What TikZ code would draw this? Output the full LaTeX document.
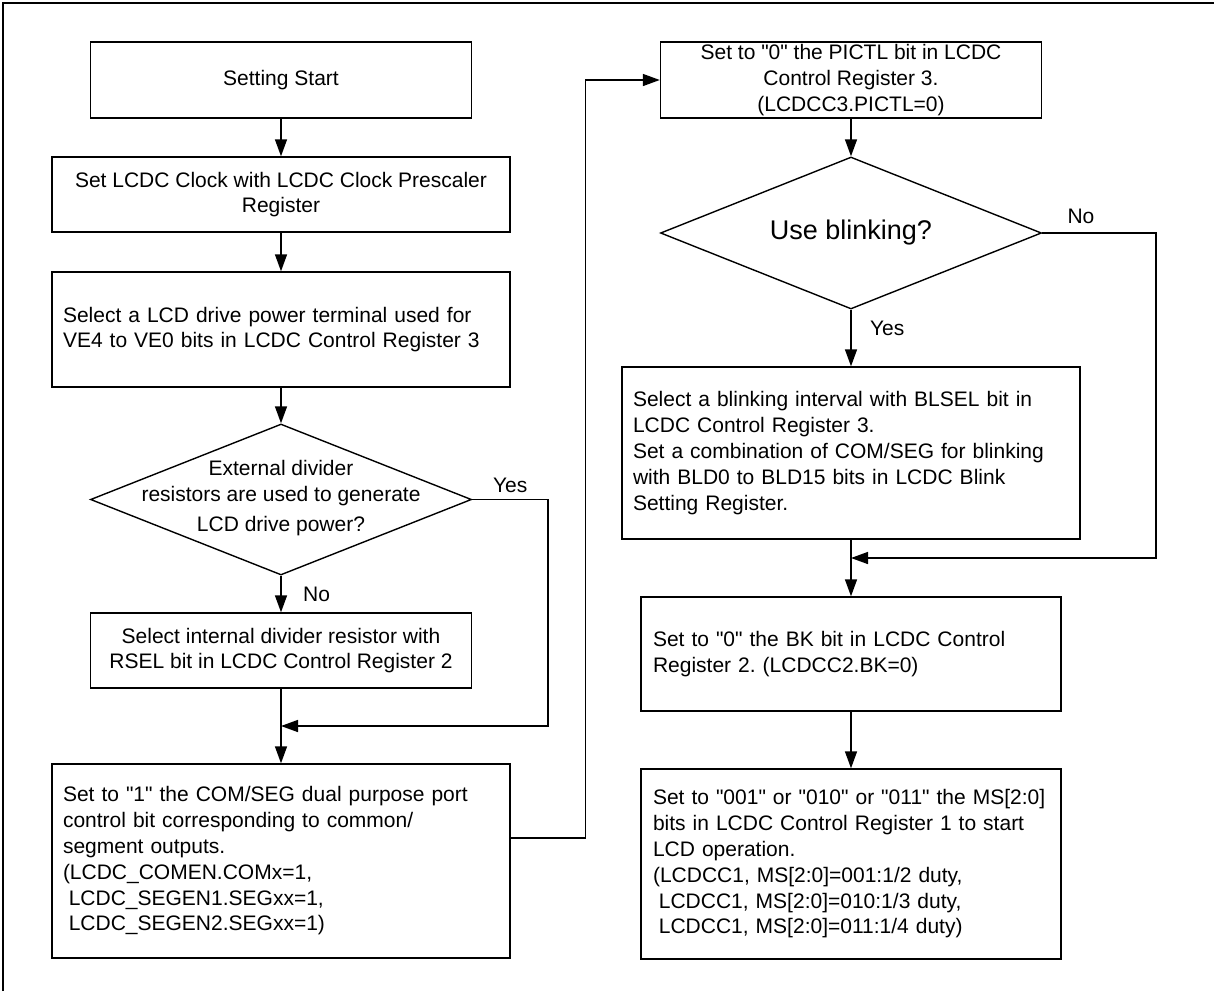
\documentclass[tikz,border=0pt]{standalone}
\usepackage{fontspec}
\setmainfont{Liberation Sans}[Ligatures=TeXOff]
\usetikzlibrary{arrows.meta,shapes.geometric}
\frenchspacing

\tikzset{
  box/.style={draw, line width=1.4pt, align=center, inner sep=0pt},
  lbox/.style={draw, line width=1.4pt, align=left, inner xsep=11pt},
  decision/.style={diamond, draw, line width=1.4pt, inner sep=0pt},
  flow/.style={line width=1.5pt, -{Triangle[length=17pt,width=12pt]}},
}

\begin{document}
\begin{tikzpicture}[x=1pt,y=-1pt,font=\fontsize{21}{25.8}\selectfont]
\useasboundingbox (0,0) rectangle (1214,991);
\draw[line width=2.8pt] (3,991) -- (3,3) -- (1214,3);

% left column
\node[box, minimum width=381pt, minimum height=76pt] (start) at (281,80) {Setting Start};
\node[box, minimum width=458pt, minimum height=75pt] (clock) at (281,194.5) {Set LCDC Clock with LCDC Clock Prescaler\\Register};
\node[lbox, text width=436pt, minimum height=115pt] (power) at (281,329.5) {Select a LCD drive power terminal used for\\VE4 to VE0 bits in LCDC Control Register 3};
\node[decision, minimum width=381pt, minimum height=151pt] (ext) at (281,499.5) {};
\node[align=center] (exttext) at (281,498) {External divider\\[1pt]resistors are used to generate\\[4pt]LCD drive power?};
\node[box, minimum width=381pt, minimum height=75pt] (internal) at (281,650.5) {Select internal divider resistor with\\RSEL bit in LCDC Control Register 2};
\coordinate (join1) at (281,726);
\node[lbox, text width=436pt, minimum height=194pt] (portset) at (281,861) {Set to "1" the COM/SEG dual purpose port\\control bit corresponding to common/\\segment outputs.\\(LCDC\_COMEN.COMx=1,\\\hspace*{5.8pt}LCDC\_SEGEN1.SEGxx=1,\\\hspace*{5.8pt}LCDC\_SEGEN2.SEGxx=1)};

% right column
\node[box, minimum width=381pt, minimum height=76pt] (pictl) at (851,80) {Set to "0" the PICTL bit in LCDC\\Control Register 3.\\(LCDCC3.PICTL=0)};
\node[decision, minimum width=381pt, minimum height=152pt] (blinkq) at (851,233) {};
\node[font=\fontsize{27}{32}\selectfont] (blinkqtext) at (blinkq) {Use blinking?};
\node[lbox, text width=436pt, minimum height=172pt] (blinkset) at (851,453) {Select a blinking interval with BLSEL bit in\\LCDC Control Register 3.\\Set a combination of COM/SEG for blinking\\with BLD0 to BLD15 bits in LCDC Blink\\Setting Register.};
\coordinate (join2) at (851,558);
\node[lbox, inner xsep=12pt, text width=396pt, minimum height=114pt] (bkset) at (851,654) {Set to "0" the BK bit in LCDC Control\\Register 2. (LCDCC2.BK=0)};
\node[lbox, inner xsep=12pt, text width=396pt, minimum height=190pt] (msset) at (851,864) {Set to "001" or "010" or "011" the MS[2:0]\\bits in LCDC Control Register 1 to start\\LCD operation.\\(LCDCC1, MS[2:0]=001:1/2 duty,\\\hspace*{5.9pt}LCDCC1, MS[2:0]=010:1/3 duty,\\\hspace*{5.9pt}LCDCC1, MS[2:0]=011:1/4 duty)};

% connectors
\draw[flow] (start) -- (clock);
\draw[flow] (clock) -- (power);
\draw[flow] (power) -- (ext);
\draw[flow] (ext) -- node[right, xshift=18pt]{No} (internal);
\draw[flow] (ext.east) -- node[above, yshift=3pt]{Yes} ++(76,0) |- (join1);
\draw[flow] (internal) -- (portset);
\draw[flow] ([yshift=23pt]portset.east) -- ++(75,0) |- (pictl.west);
\draw[flow] (pictl) -- (blinkq);
\draw[flow] (blinkq) -- node[pos=0.33, right, xshift=15pt]{Yes} (blinkset);
\draw[flow] (blinkq.east) -- node[pos=0.34, above, yshift=5pt]{No} ++(114,0) |- (join2);
\draw[flow] (blinkset) -- (bkset);
\draw[flow] (bkset) -- (msset);
\end{tikzpicture}
\end{document}
